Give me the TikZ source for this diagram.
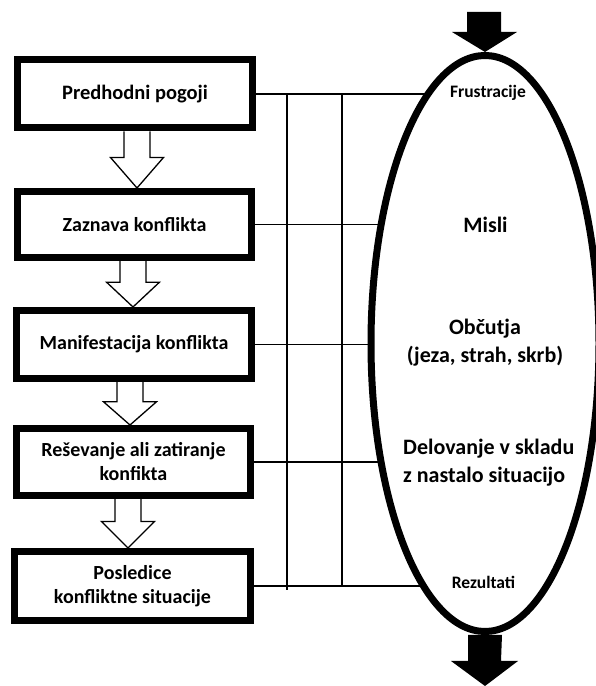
\documentclass[tikz,border=0pt]{standalone}
\usepackage{fontspec}
\setmainfont{Carlito}
\usetikzlibrary{shapes.geometric,calc}
\newcommand\hollowarrow[4]{%
  \draw[hollow] let \p1=(#1.south), \p2=(#2.north), \n1={\y1-0.46*(\y1-\y2)} in
    (#3pt-13pt,\y1) -- (#3pt-13pt,\n1) -- (#3pt-26.5pt,\n1) -- (#3pt,\y2)
    -- (#3pt+26.5pt,\n1) -- (#3pt+13pt,\n1) -- (#3pt+13pt,\y1);}
\begin{document}
\begin{tikzpicture}[x=1pt,y=1pt,
  stage/.style={draw, line width=7pt, minimum width=235pt, minimum height=68pt,
    inner sep=0pt, align=center, font=\bfseries\fontsize{20}{24}\selectfont},
  conn/.style={line width=1.3pt},
  hollow/.style={line width=1.3pt, line join=miter},
  bigtext/.style={font=\bfseries\fontsize{22}{28}\selectfont, align=center, inner sep=0pt},
  smalltext/.style={font=\bfseries\fontsize{17.5}{22}\selectfont, inner sep=0pt}]
\useasboundingbox (0,0) rectangle (595,686);
\fill[white] (0,0) rectangle (595,686);

% stages
\node[stage, font=\bfseries\fontsize{20.5}{24}\selectfont] (b1) at (135,592) {Predhodni pogoji};
\node[stage, minimum height=66pt, minimum width=234pt] (b2) at (134.5,461.5) {Zaznava konflikta};
\node[stage] (b3) at (134,341.5) {Manifestacija konflikta};
\node[stage, minimum height=67pt, minimum width=234pt] (b4) at (133.5,224) {Reševanje ali zatiranje\\konfikta};
\node[stage, minimum height=69pt, minimum width=236pt] (b5) at (132.5,100) {Posledice\\konfliktne situacije};

% hollow arrows between stages
\hollowarrow{b1}{b2}{137}{}
\hollowarrow{b2}{b3}{133}{}
\hollowarrow{b3}{b4}{130}{}
\hollowarrow{b4}{b5}{128}{}

% connector grid
\coordinate (v1) at (287,0);
\coordinate (v2) at (342,0);
\coordinate (e1) at (428,0);
\coordinate (e2) at (381,0);
\coordinate (e3) at (371,0);
\coordinate (e4) at (381,0);
\coordinate (e5) at (423.5,0);
\draw[conn] (b1.east) -- (b1.east -| e1);
\draw[conn] (b2.east) -- (b2.east -| e2);
\draw[conn] (b3.east) -- (b3.east -| e3);
\draw[conn] (b4.east) -- (b4.east -| e4);
\draw[conn] (b5.east) -- (b5.east -| e5);
\draw[conn] (b1.east -| v1) -- ([yshift=-4pt]b5.east -| v1);
\draw[conn] (b1.east -| v2) -- (b5.east -| v2);

% ellipse
\node[draw, ellipse, line width=7pt, minimum width=228pt, minimum height=576pt, inner sep=0pt] (ell) at (485,342.5) {};

% filled arrows
\fill (ell.north) -- (452,654) -- (467,654) -- (467,674) -- (501,674) -- (501,654) -- (517,654) -- cycle;
\fill ([xshift=-17pt]ell.south) -- (468,25) -- (451,25) -- (485,0) -- (518,25) -- (501,25) -- ([xshift=17pt]ell.south) -- cycle;

% texts in ellipse
\node[smalltext] (fr) at (488,593) {Frustracije};
\node[bigtext] (mi) at (485.5,461) {Misli};
\node[bigtext] (ob) at (485,343) {Občutja\\(jeza, strah, skrb)};
\node[bigtext, align=left, anchor=west] (de) at (403,223) {Delovanje v skladu\\z nastalo situacijo};
\node[smalltext] (re) at (483.5,104) {Rezultati};
\end{tikzpicture}
\end{document}
